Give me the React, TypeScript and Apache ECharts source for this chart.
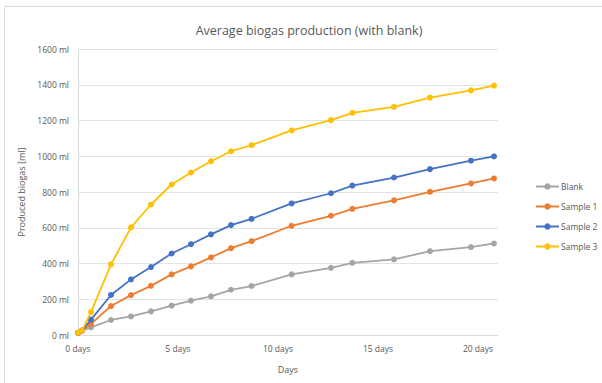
import React, { useEffect, useRef } from "react";
import * as echarts from "echarts";

const days = [0, 0.2, 0.65, 1.65, 2.65, 3.65, 4.68, 5.65, 6.65, 7.65, 8.68, 10.68, 12.65, 13.72, 15.8, 17.6, 19.65, 20.8];
const blank = [12, 25, 43, 84, 104, 132, 164, 192, 216, 253, 274, 339, 376, 404, 423, 469, 492, 512];
const sample1 = [12, 25, 62, 162, 223, 275, 339, 384, 434, 486, 525, 611, 667, 706, 753, 801, 848, 876];
const sample2 = [12, 25, 86, 224, 311, 380, 456, 508, 563, 615, 650, 736, 793, 836, 881, 928, 975, 999];
const sample3 = [12, 25, 128, 395, 602, 730, 842, 909, 972, 1028, 1062, 1145, 1202, 1243, 1276, 1328, 1369, 1395];

const seriesNames = ["Blank", "Sample 1", "Sample 2", "Sample 3"];
const seriesValues = [blank, sample1, sample2, sample3];
const colors = ["#A5A5A5", "#ED7D31", "#4472C4", "#FFC000"];

const FONT = "'Open Sans', 'Noto Sans', sans-serif";
const TEXT = "#595959";

export default function App() {
  const ref = useRef<HTMLDivElement>(null);
  useEffect(() => {
    if (!ref.current) return;
    const chart = echarts.init(ref.current, undefined, { renderer: "svg" });
    chart.setOption({
      animation: false,
      backgroundColor: "#ffffff",
      textStyle: { fontFamily: FONT },
      title: {
        text: "Average biogas production (with blank)",
        left: 304,
        textAlign: "center",
        top: 19,
        textStyle: { fontFamily: FONT, fontSize: 12.5, fontWeight: "normal", color: TEXT },
      },
      graphic: [
        {
          type: "rect",
          shape: { x: 4.5, y: 6.5, width: 700, height: 500 },
          style: { fill: "none", stroke: "#d9d9d9", lineWidth: 1 },
          silent: true,
        },
      ],
      legend: {
        orient: "vertical",
        left: 530,
        top: 177,
        itemWidth: 23,
        itemHeight: 8,
        itemGap: 11,
        textStyle: { fontFamily: FONT, fontSize: 8.5, color: TEXT, padding: [0, 0, 0, -3] },
        data: seriesNames,
      },
      grid: { left: 78, right: 104, top: 49, bottom: 48, containLabel: false },
      xAxis: {
        type: "value",
        min: 0,
        max: 21,
        interval: 5,
        name: "Days",
        nameLocation: "middle",
        nameGap: 30,
        nameTextStyle: { fontFamily: FONT, fontSize: 9, color: TEXT },
        axisLine: { show: true, lineStyle: { color: "#d9d9d9" } },
        axisTick: { show: false },
        splitLine: { show: false },
        axisLabel: {
          formatter: (v: number) => `${v} days`,
          showMaxLabel: false,
          fontFamily: FONT,
          fontSize: 8.5,
          color: TEXT,
          margin: 9,
        },
      },
      yAxis: {
        type: "value",
        min: 0,
        max: 1600,
        interval: 200,
        name: "Produced biogas [ml]",
        nameLocation: "middle",
        nameGap: 51,
        nameTextStyle: { fontFamily: FONT, fontSize: 9, color: TEXT },
        axisLine: { show: true, lineStyle: { color: "#d9d9d9" } },
        axisTick: { show: false },
        splitLine: { show: true, lineStyle: { color: "#e3e3e3" } },
        axisLabel: {
          formatter: (v: number) => `${v} ml`,
          fontFamily: FONT,
          fontSize: 8.5,
          color: TEXT,
          margin: 9,
        },
      },
      series: seriesNames.map((name, i) => ({
        name,
        type: "line",
        data: days.map((d, j) => [d, seriesValues[i][j]]),
        symbol: "circle",
        symbolSize: 6,
        lineStyle: { width: 1.8, color: colors[i] },
        itemStyle: { color: colors[i] },
        z: 2 + i,
      })),
    });
    return () => chart.dispose();
  }, []);
  return <div ref={ref} style={{ width: 602, height: 383, position: "absolute", left: 0, top: 0 }} />;
}
